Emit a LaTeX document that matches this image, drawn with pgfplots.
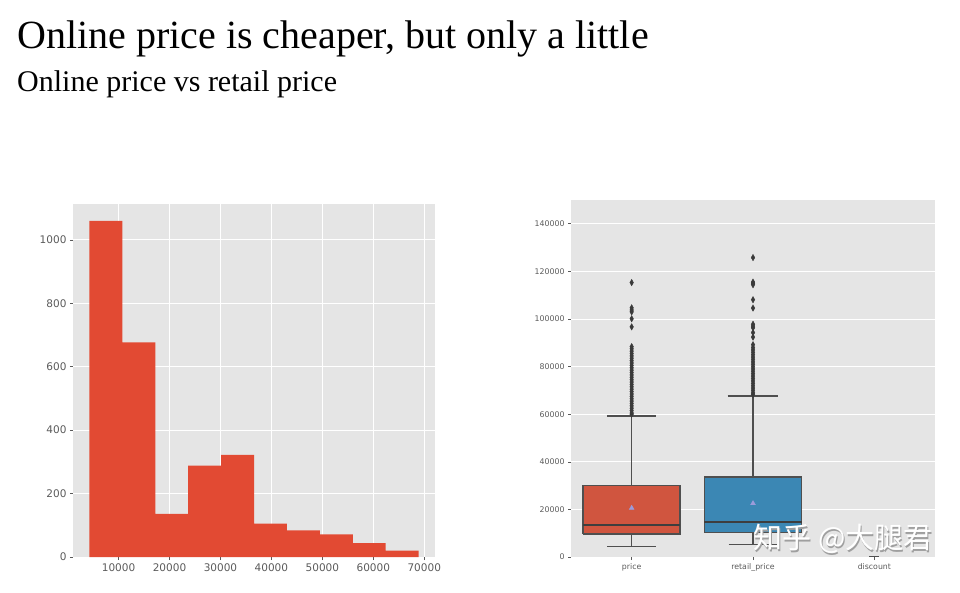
\documentclass[border=0pt]{standalone}
\usepackage{pgfplots}
\pgfplotsset{compat=1.18}
\usepackage{fontspec}
\setmainfont{Liberation Serif}
\newfontfamily\tickfont{DejaVu Sans}
\newfontfamily\cjk{Noto Sans CJK SC}
\definecolor{ggbg}{HTML}{E5E5E5}
\definecolor{histred}{HTML}{E24A33}
\definecolor{pricered}{HTML}{D0553F}
\definecolor{retailblue}{HTML}{3B87B4}
\definecolor{edgegray}{HTML}{4F4F4F}
\definecolor{medgray}{HTML}{3E3E3E}
\definecolor{meanpurple}{HTML}{9B9BDA}
\definecolor{labgray}{HTML}{5A5A5A}
\definecolor{flier}{HTML}{3A3A3A}
\pgfplotsset{gg/.style={
  scale only axis,
  axis background/.style={fill=ggbg},
  axis line style={draw=none},
  major grid style={white, line width=0.9pt},
  tick align=outside,
  tick style={draw=labgray, line width=0.6pt},
  major tick length=3pt,
  xtick pos=bottom, ytick pos=left,
  ticklabel style={text=labgray},
  /pgf/number format/fixed,
  /pgf/number format/precision=0,
  /pgf/number format/1000 sep={},
  /pgf/number format/assume math mode=true,
  scaled ticks=false,
}}
\begin{document}
\begin{tikzpicture}
\path (0pt,0pt) rectangle (960pt,592pt);
\node[anchor=base west, inner sep=0, font=\fontsize{40}{44}\selectfont] at (17pt,543pt) {Online price is cheaper, but only a little};
\node[anchor=base west, inner sep=0, font=\fontsize{30}{34}\selectfont] at (17pt,500pt) {Online price vs retail price};

\begin{axis}[gg, at={(73pt,35pt)}, anchor=south west, width=362pt, height=353pt,
  xmin=1060, xmax=72110, ymin=0, ymax=1113,
  xtick={10000,20000,30000,40000,50000,60000,70000},
  ytick={0,200,400,600,800,1000},
  xmajorgrids, ymajorgrids,
  ticklabel style={font=\tickfont\fontsize{10.5}{12}\selectfont}]
\addplot[fill=histred, draw=none, const plot mark left] coordinates {
 (4290,1060) (10750,677) (17210,136) (23670,288) (30130,322)
 (36590,105) (43050,84) (49510,71) (55970,44) (62420,20) (68880,20)} \closedcycle;
\end{axis}

% values in thousands
\begin{axis}[gg, at={(571pt,35pt)}, anchor=south west, width=364pt, height=357pt,
  xmin=-0.5, xmax=2.5, ymin=0, ymax=150,
  xtick={0,1,2}, xticklabels={price,retail\_price,discount},
  ytick={0,20,40,60,80,100,120,140},
  yticklabels={0,20000,40000,60000,80000,100000,120000,140000},
  ymajorgrids,
  ticklabel style={font=\tickfont\fontsize{7.8}{9}\selectfont},
  wh/.style={draw=edgegray, line width=1.6pt, mark=none}]
% price: whiskers, box, median
\addplot[wh] coordinates {(0,30.1) (0,59.36)};
\addplot[wh] coordinates {(-0.2,59.36) (0.2,59.36)};
\addplot[wh] coordinates {(0,9.66) (0,4.48)};
\addplot[wh] coordinates {(-0.2,4.48) (0.2,4.48)};
\addplot[wh, fill=pricered, line join=miter] coordinates {(-0.4,9.66) (0.4,9.66) (0.4,30.1) (-0.4,30.1) (-0.4,9.66)};
\addplot[wh, draw=medgray, line width=1.8pt] coordinates {(-0.4,13.58) (0.4,13.58)};
% retail_price
\addplot[wh] coordinates {(1,33.6) (1,67.7)};
\addplot[wh] coordinates {(0.79,67.7) (1.21,67.7)};
\addplot[wh] coordinates {(1,10.36) (1,5.18)};
\addplot[wh] coordinates {(0.8,5.18) (1.2,5.18)};
\addplot[wh, fill=retailblue, line join=miter] coordinates {(0.6,10.36) (1.4,10.36) (1.4,33.6) (0.6,33.6) (0.6,10.36)};
\addplot[wh, draw=medgray, line width=1.8pt] coordinates {(0.6,14.56) (1.4,14.56)};
% discount (values near 0)
\addplot[wh, line width=0.8pt] coordinates {(1.96,0.4) (2.04,0.4)};
% outliers
\addplot[only marks, mark=diamond*, mark size=3.2pt, mark options={fill=flier, draw=flier, xscale=0.75}] table[row sep=\\] {
x y\\
0 115.3\\ 0 104.7\\ 0 103.8\\ 0 103.0\\ 0 100.1\\ 0 96.7\\
0 88.4\\ 0 87.5\\ 0 86.5\\ 0 85.5\\ 0 84.5\\ 0 83.5\\ 0 82.5\\ 0 81.5\\
0 80.5\\ 0 79.5\\ 0 78.5\\ 0 77.5\\ 0 76.5\\ 0 75.5\\ 0 74.5\\ 0 73.5\\
0 72.5\\ 0 71.5\\ 0 70.5\\ 0 69.5\\ 0 68.5\\ 0 67.5\\ 0 66.5\\ 0 65.5\\
0 64.5\\ 0 63.5\\ 0 62.5\\ 0 61.5\\ 0 60.5\\ 0 60.0\\
1 125.8\\ 1 115.5\\ 1 115.0\\ 1 114.4\\ 1 108.1\\ 1 104.6\\ 1 97.8\\ 1 97.0\\
1 96.3\\ 1 94.3\\ 1 92.4\\ 1 89.2\\ 1 88.0\\ 1 87.0\\ 1 86.0\\ 1 85.0\\
1 84.0\\ 1 83.0\\ 1 82.0\\ 1 81.0\\ 1 80.0\\ 1 79.0\\ 1 78.0\\ 1 77.0\\
1 76.0\\ 1 75.0\\ 1 74.0\\ 1 73.0\\ 1 72.0\\ 1 71.0\\ 1 70.0\\ 1 69.0\\
1 68.3\\
};
\addplot[only marks, mark=triangle*, mark size=2.8pt, mark options={fill=meanpurple, draw=meanpurple}] coordinates {(0,20.58) (1,22.54)};
\end{axis}

\node[anchor=center, inner sep=0, text=gray!75, font=\cjk\fontsize{29}{32}\selectfont] at (844.4pt,51.6pt) {知乎 @大腿君};
\node[anchor=center, inner sep=0, text=white, font=\cjk\fontsize{29}{32}\selectfont] at (843pt,52.8pt) {知乎 @大腿君};
\end{tikzpicture}
\end{document}
